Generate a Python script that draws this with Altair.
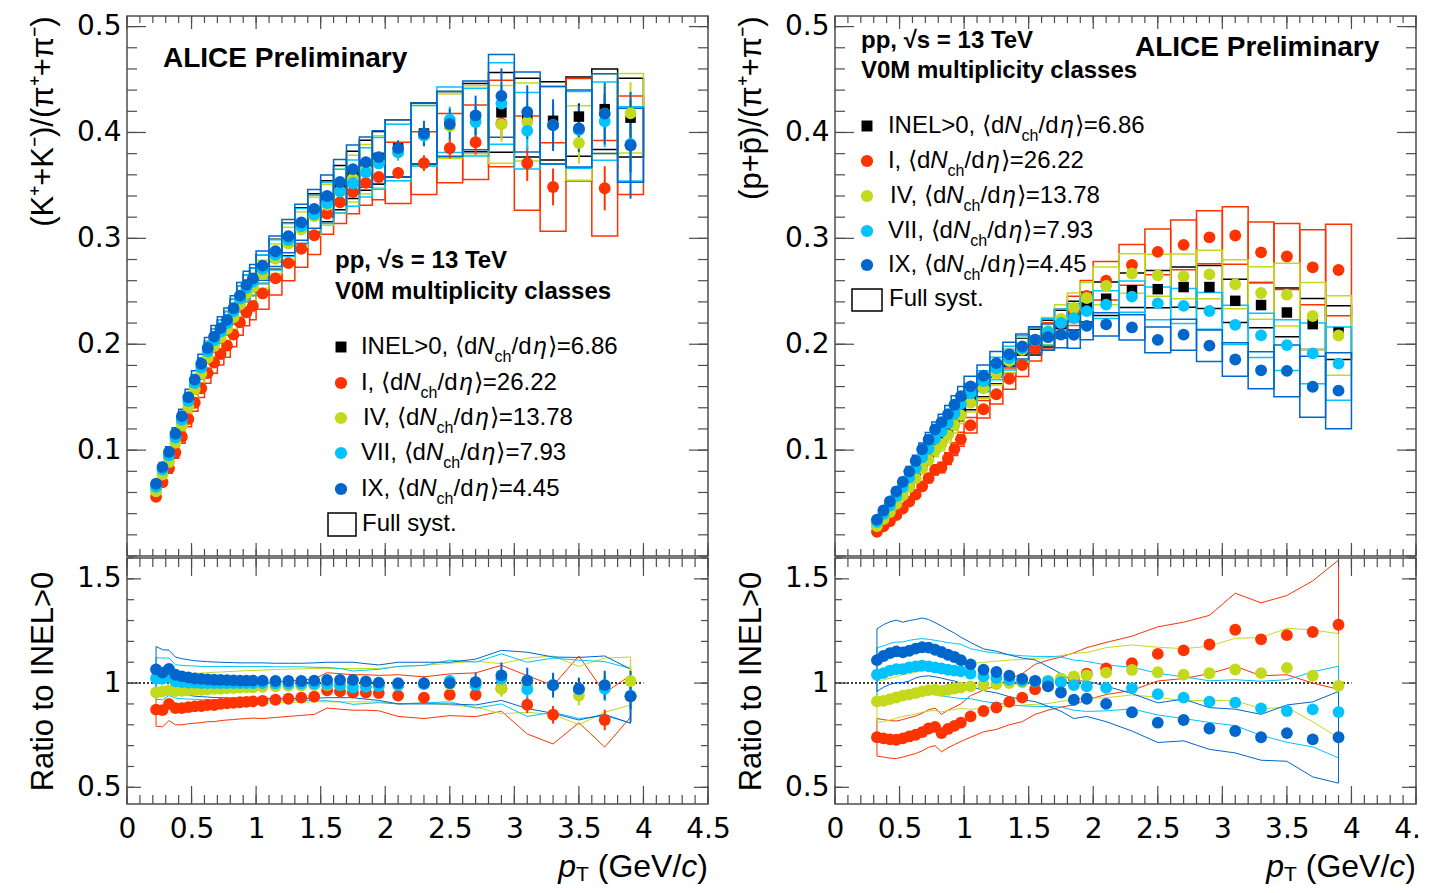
import altair as alt
import pandas as pd

# ---------------- data ----------------
CLASSES = ["INEL>0", "I", "IV", "VII", "IX"]
COLORS = ["#000000", "#ff3300", "#c3da1c", "#00c3ff", "#0066cc"]
MULT = ["6.86", "26.22", "13.78", "7.93", "4.45"]
PREFIX = ["INEL>0, ", "I, ", "IV, ", "VII, ", "IX, "]

PT_K = [0.225, 0.275, 0.325, 0.375, 0.425, 0.475, 0.525, 0.575, 0.625, 0.675, 0.725, 0.775,
        0.825, 0.875, 0.925, 0.975, 1.05, 1.15, 1.25, 1.35, 1.45, 1.55, 1.65, 1.75, 1.85, 1.95,
        2.1, 2.3, 2.5, 2.7, 2.9, 3.1, 3.3, 3.5, 3.7, 3.9]
BINHW_K = [0.025] * 16 + [0.05] * 10 + [0.1] * 10
PT_P = PT_K[2:]
BINHW_P = BINHW_K[2:]

# (K+ + K-)/(pi+ + pi-) for INEL>0
KPI_INEL = [0.064, 0.080, 0.092, 0.111, 0.128, 0.146, 0.163, 0.178, 0.193, 0.204, 0.212, 0.220,
            0.231, 0.243, 0.253, 0.259, 0.271, 0.285, 0.299, 0.312, 0.324, 0.335, 0.348, 0.360,
            0.369, 0.376, 0.385, 0.399, 0.408, 0.414, 0.419, 0.414, 0.411, 0.415, 0.422, 0.414]
# ratio to INEL>0
KPI_RATIO = {
    "I": [0.873, 0.87, 0.90, 0.88, 0.88, 0.885, 0.888, 0.89, 0.895, 0.895, 0.90, 0.903, 0.905,
          0.908, 0.91, 0.912, 0.915, 0.92, 0.925, 0.93, 0.935, 0.965, 0.96, 0.955, 0.955, 0.952,
          0.94, 0.93, 0.944, 0.944, 0.975, 0.896, 0.848, 0.97, 0.823, 0.937],
    "IV": [0.955, 0.96, 0.965, 0.962, 0.963, 0.965, 0.967, 0.968, 0.97, 0.972, 0.973, 0.975,
           0.976, 0.978, 0.98, 0.98, 0.982, 0.985, 0.987, 0.988, 0.99, 0.99, 0.99, 0.99, 0.99,
           0.99, 0.99, 0.995, 0.995, 0.995, 0.973, 0.99, 0.99, 0.94, 0.99, 1.01],
    "VII": [1.022, 1.02, 1.03, 1.008, 1.005, 1.003, 1.002, 1.0, 1.0, 1.0, 1.0, 1.0, 1.0, 1.0,
            1.0, 1.0, 1.0, 0.998, 0.998, 0.998, 0.996, 0.995, 0.99, 0.978, 0.982, 0.986, 0.99,
            0.995, 1.01, 0.99, 1.02, 0.97, 0.99, 0.97, 0.973, 0.94],
    "IX": [1.066, 1.05, 1.068, 1.04, 1.032, 1.027, 1.022, 1.02, 1.018, 1.016, 1.015, 1.014,
           1.013, 1.012, 1.012, 1.012, 1.012, 1.01, 1.01, 1.01, 1.012, 1.015, 1.015, 1.015,
           1.008, 1.002, 1.0, 1.0, 1.0, 1.005, 1.037, 1.013, 0.99, 0.973, 0.99, 0.937],
}
# half width of the systematic band in the ratio panel
KPI_RBAND = {
    "I": [0.08] * 16 + [0.085] * 10 + [0.1, 0.1, 0.1, 0.105, 0.11, 0.14, 0.14, 0.16, 0.13, 0.1],
    "IV": [0.08] * 26 + [0.09, 0.09, 0.1, 0.11, 0.12, 0.13, 0.14, 0.14, 0.13, 0.115],
    "VII": [0.1, 0.1, 0.09] + [0.08] * 23 + [0.09, 0.09, 0.1, 0.11, 0.12, 0.13, 0.13, 0.14, 0.13, 0.13],
    "IX": [0.11, 0.11, 0.09] + [0.085] * 23 + [0.1, 0.1, 0.1, 0.11, 0.12, 0.135, 0.135, 0.15, 0.14, 0.13],
}
KPI_SYS_BASE = [0.05] * 16 + [0.05, 0.05, 0.052, 0.054, 0.056, 0.058, 0.06, 0.062, 0.064, 0.066] + \
               [0.07, 0.072, 0.075, 0.078, 0.09, 0.09, 0.09, 0.09, 0.09, 0.09]
KPI_SYS_I = [0.055] * 16 + [0.06] * 10 + [0.08, 0.08, 0.085, 0.09, 0.1, 0.12, 0.12, 0.12, 0.13, 0.12]
KPI_SYST = {"INEL>0": KPI_SYS_BASE, "I": KPI_SYS_I, "IV": KPI_SYS_BASE,
            "VII": KPI_SYS_BASE, "IX": KPI_SYS_BASE}
KPI_STAT = {
    "INEL>0": [0.0] * 26 + [0.01, 0.012, 0.014, 0.016, 0.02, 0.022, 0.025, 0.03, 0.035, 0.04],
    "I": [0.0] * 26 + [0.015, 0.02, 0.025, 0.03, 0.035, 0.045, 0.05, 0.055, 0.06, 0.065],
    "IV": [0.0] * 26 + [0.02, 0.025, 0.03, 0.035, 0.04, 0.045, 0.05, 0.05, 0.06, 0.07],
    "VII": [0.0] * 26 + [0.02, 0.025, 0.03, 0.035, 0.04, 0.045, 0.05, 0.05, 0.06, 0.07],
    "IX": [0.0] * 26 + [0.02, 0.03, 0.035, 0.045, 0.06, 0.06, 0.06, 0.055, 0.07, 0.13],
}

# (p + pbar)/(pi+ + pi-) for INEL>0
PPI_INEL = [0.031, 0.038, 0.045, 0.053, 0.061, 0.069, 0.077, 0.086, 0.094, 0.103, 0.110, 0.118,
            0.127, 0.136, 0.147, 0.160, 0.173, 0.184, 0.194, 0.202, 0.210, 0.219, 0.227, 0.235,
            0.243, 0.251, 0.252, 0.254, 0.254, 0.241, 0.237, 0.230, 0.219, 0.211]
PPI_RATIO = {
    "I": [0.74, 0.735, 0.73, 0.728, 0.735, 0.744, 0.752, 0.765, 0.782, 0.79, 0.76, 0.78, 0.795,
          0.81, 0.84, 0.866, 0.883, 0.91, 0.93, 0.97, 0.99, 1.005, 1.02, 1.045, 1.07, 1.095,
          1.14, 1.157, 1.185, 1.256, 1.21, 1.23, 1.245, 1.28],
    "IV": [0.912, 0.915, 0.923, 0.931, 0.94, 0.945, 0.952, 0.96, 0.966, 0.968, 0.962, 0.968,
           0.974, 0.978, 0.984, 0.99, 0.995, 1.0, 1.004, 1.008, 1.012, 1.022, 1.032, 1.037,
           1.05, 1.063, 1.052, 1.04, 1.047, 1.065, 1.048, 1.073, 1.035, 0.987],
    "VII": [1.04, 1.048, 1.06, 1.067, 1.067, 1.075, 1.08, 1.083, 1.08, 1.075, 1.07, 1.064, 1.06,
            1.056, 1.045, 1.032, 1.024, 1.016, 1.011, 1.008, 1.008, 1.005, 0.99, 0.984, 0.977,
            0.976, 0.947, 0.93, 0.911, 0.906, 0.879, 0.866, 0.874, 0.861],
    "IX": [1.11, 1.13, 1.144, 1.152, 1.147, 1.155, 1.165, 1.172, 1.17, 1.16, 1.149, 1.136, 1.125,
           1.11, 1.09, 1.064, 1.053, 1.035, 1.02, 1.011, 0.984, 0.955, 0.92, 0.925, 0.9, 0.86,
           0.81, 0.823, 0.782, 0.77, 0.74, 0.76, 0.73, 0.74],
}
PPI_RBAND = {
    "I": [0.09] * 14 + [0.1, 0.1, 0.105, 0.11, 0.115, 0.12, 0.12, 0.12, 0.125, 0.125] +
         [0.125, 0.13, 0.13, 0.135, 0.14, 0.175, 0.175, 0.19, 0.245, 0.31],
    "IV": [0.1] * 14 + [0.11] * 10 + [0.12, 0.12, 0.12, 0.125, 0.13, 0.15, 0.17, 0.19, 0.22, 0.25],
    "VII": [0.13] * 14 + [0.12] * 10 + [0.11, 0.1, 0.1, 0.1, 0.1, 0.11, 0.13, 0.15, 0.18, 0.22],
    "IX": [0.15, 0.15, 0.15, 0.15, 0.145, 0.145, 0.14, 0.14, 0.135, 0.13, 0.125, 0.12, 0.115, 0.11,
           0.105, 0.1, 0.1, 0.1, 0.1, 0.1, 0.095, 0.09, 0.09, 0.085, 0.085, 0.09, 0.095, 0.1, 0.1,
           0.105, 0.11, 0.135, 0.18, 0.22],
}
PPI_SYST = {
    "INEL>0": [0.06] * 24 + [0.065, 0.065, 0.07, 0.075, 0.08, 0.085, 0.09, 0.1, 0.11, 0.12],
    "I": [0.06] * 24 + [0.07, 0.07, 0.075, 0.08, 0.083, 0.09, 0.1, 0.11, 0.13, 0.16],
    "IV": [0.06] * 24 + [0.07, 0.07, 0.075, 0.08, 0.086, 0.09, 0.1, 0.12, 0.14, 0.18],
    "VII": [0.06] * 24 + [0.055, 0.06, 0.065, 0.07, 0.075, 0.085, 0.1, 0.12, 0.15, 0.19],
    "IX": [0.06] * 24 + [0.05, 0.055, 0.06, 0.07, 0.075, 0.085, 0.1, 0.14, 0.18, 0.23],
}
PPI_STAT = {c: [0.0] * 34 for c in CLASSES}

X_MAJOR = [0, 0.5, 1, 1.5, 2, 2.5, 3, 3.5, 4, 4.5]
X_MINOR = [i / 10 for i in range(46)]
Y_TOP_LABELS = [0.1, 0.2, 0.3, 0.4, 0.5]
Y_TOP_MINOR = [i / 50 for i in range(26)]
Y_BOT_LABELS = [0.5, 1.0, 1.5]
Y_BOT_MINOR = [round(0.5 + i / 10, 2) for i in range(12)]
REF_X = [0.0, 4.0]
REF_Y = [1.0, 1.0]

# ---------------- style ----------------
FONT = "Liberation Sans"
LFONT = "DejaVu Sans"
FRAME = "#4d4d4d"
W_P, H_T, H_B = 581, 540, 246
XS = alt.Scale(domain=[0, 4.5], nice=False, zero=False)
YS_T = alt.Scale(domain=[0, 0.51], nice=False, zero=False)
YS_B = alt.Scale(domain=[0.42, 1.6], nice=False, zero=False)
CS = alt.Scale(domain=CLASSES, range=COLORS)
ONE = pd.DataFrame({"a": [0]})

HELV = {' ': 278, ',': 278, '.': 278, '/': 278, '=': 584, '>': 584, '(': 333, ')': 333,
        'I': 278, 'N': 722, 'E': 667, 'L': 556, 'V': 667, 'X': 667, 'G': 778,
        'd': 556, 'c': 500, 'h': 556, 'e': 556}


def tw(s, fs):
    return sum(HELV.get(ch, 556) for ch in s) / 1000.0 * fs


def yaxis(values, fmt, title, anchor):
    return alt.Axis(values=values, format=fmt, title=title, titleAnchor=anchor,
                    labelFont=LFONT, labelFontSize=28, labelColor="black", labelPadding=6,
                    ticks=False, tickSize=0, domain=False, grid=False, labelOverlap=False,
                    labelFlush=False, titleFont=FONT, titleFontSize=31, titleFontWeight="normal",
                    titleColor="black", titlePadding=16, minExtent=52, maxExtent=52)


XAX_B = alt.Axis(values=X_MAJOR, format="~g", title=None, labelFont=LFONT, labelFontSize=28,
                 labelColor="black", labelPadding=11, ticks=False, tickSize=0, domain=False,
                 grid=False, labelOverlap=False, labelFlush=False)


def txt(s, x, y, size, align="left", weight="normal", style="normal"):
    return alt.Chart(ONE).mark_text(text=s, align=align, baseline="middle", fontSize=size,
                                    fontWeight=weight, fontStyle=style, font=FONT,
                                    color="black").encode(x=alt.value(x), y=alt.value(y))


def ticks(W, H, ys, xax, yax, ymaj, ymin, lx, lxm, ly, lym):
    out = []
    for vals, ln in ((ymaj, ly), (ymin, lym)):
        base = alt.Chart(pd.DataFrame({"t": vals})).mark_rule(color=FRAME, strokeWidth=1.2)
        out.append(base.encode(y=alt.Y("t:Q", scale=ys, axis=yax), x=alt.value(0), x2=alt.value(ln)))
        out.append(base.encode(y=alt.Y("t:Q", scale=ys, axis=yax), x=alt.value(W), x2=alt.value(W - ln)))
    for vals, ln in ((X_MAJOR, lx), (X_MINOR, lxm)):
        base = alt.Chart(pd.DataFrame({"t": vals})).mark_rule(color=FRAME, strokeWidth=1.2)
        out.append(base.encode(x=alt.X("t:Q", scale=XS, axis=xax), y=alt.value(H), y2=alt.value(H - ln)))
        out.append(base.encode(x=alt.X("t:Q", scale=XS, axis=xax), y=alt.value(0), y2=alt.value(ln)))
    return out


def legend(xm, x0, rows, fy, box):
    fs, fsub = 24, 16
    out = []
    for i, c in enumerate(CLASSES):
        y = rows[i]
        if i == 0:
            out.append(alt.Chart(ONE).mark_square(size=120, opacity=1, color="black")
                       .encode(x=alt.value(xm), y=alt.value(y)))
        else:
            out.append(alt.Chart(ONE).mark_circle(size=150, opacity=1, color=COLORS[i])
                       .encode(x=alt.value(xm), y=alt.value(y)))
        xn = x0 + tw(PREFIX[i], fs) + 0.329 * fs + 0.556 * fs
        out.append(txt(PREFIX[i] + "\u27e8d", xn, y, fs, align="right"))
        out.append(txt("N", xn, y, fs, style="italic"))
        xc = xn + 0.722 * fs
        out.append(txt("ch", xc, y + 10, fsub))
        xs = xc + tw("ch", fsub)
        out.append(txt("/d", xs, y, fs))
        xe = xs + tw("/d", fs) + 0.08 * fs
        out.append(txt("\u03b7", xe, y, fs, style="italic"))
        out.append(txt("\u27e9=" + MULT[i], xe + 0.6 * fs, y, fs))
    out.append(alt.Chart(ONE).mark_rect(filled=False, stroke="black", strokeWidth=1.5)
               .encode(x=alt.value(box[0]), x2=alt.value(box[1]), y=alt.value(box[2]), y2=alt.value(box[3])))
    out.append(txt("Full syst.", x0, fy, fs))
    return out


def top_panel(pt, bhw, inel, ratio, syst, stat, ytitle, extra):
    rows = []
    for c in CLASSES:
        r = ratio.get(c)
        for i, p in enumerate(pt):
            v = inel[i] * (1.0 if r is None else r[i])
            s = syst[c][i] * v
            e = stat[c][i] * v
            rows.append(dict(cls=c, pt=p, lo=p - bhw[i], hi=p + bhw[i], v=v,
                             slo=v - s, shi=v + s, elo=v - e, ehi=v + e, e=e))
    df = pd.DataFrame(rows)
    yax = yaxis(Y_TOP_LABELS, ".1f", ytitle, "end")
    col = alt.Color("cls:N", scale=CS, legend=None)
    layers = [
        alt.Chart(df).mark_rect(filled=False, strokeWidth=1.5).encode(
            x=alt.X("lo:Q", scale=XS, axis=None), x2="hi:Q",
            y=alt.Y("slo:Q", scale=YS_T, axis=yax), y2="shi:Q", color=col),
    ]
    de = df[df.e > 0]
    if len(de):
        layers.append(alt.Chart(de).mark_rule(strokeWidth=2).encode(
            x=alt.X("pt:Q", scale=XS, axis=None), y=alt.Y("elo:Q", scale=YS_T, axis=yax),
            y2="ehi:Q", color=col))
    layers.append(alt.Chart(df[df.cls == "INEL>0"]).mark_square(size=110, opacity=1).encode(
        x=alt.X("pt:Q", scale=XS, axis=None), y=alt.Y("v:Q", scale=YS_T, axis=yax), color=col))
    layers.append(alt.Chart(df[df.cls != "INEL>0"]).mark_circle(size=140, opacity=1).encode(
        x=alt.X("pt:Q", scale=XS, axis=None), y=alt.Y("v:Q", scale=YS_T, axis=yax), color=col))
    layers += ticks(W_P, H_T, YS_T, None, yax, Y_TOP_LABELS, Y_TOP_MINOR, 13, 7, 19, 10)
    layers += extra
    return alt.layer(*layers).properties(width=W_P, height=H_T)


def xtitle(W):
    fs, fsub, y = 32, 21, 309
    out = []
    r = W
    out.append(txt(")", r, y, fs, align="right"))
    r -= 0.333 * fs
    out.append(txt("c", r, y, fs, align="right", style="italic"))
    r -= 0.5 * fs
    out.append(txt("(GeV/", r, y, fs, align="right"))
    r -= tw("(GeV/", fs) + 0.278 * fs
    out.append(txt("T", r, y + 8, fsub, align="right"))
    r -= 0.611 * fsub
    out.append(txt("p", r, y, fs, align="right", style="italic"))
    return out


def bottom_panel(pt, ratio, band, stat):
    pts, bnd = [], []
    for c in CLASSES[1:]:
        n = len(pt)
        for i in range(n):
            v = ratio[c][i]
            e = v * stat[c][i]
            pts.append(dict(cls=c, pt=pt[i], v=v, elo=v - e, ehi=v + e, e=e))
        poly = [(pt[i], ratio[c][i] + band[c][i]) for i in range(n)]
        poly += [(pt[i], ratio[c][i] - band[c][i]) for i in reversed(range(n))]
        poly.append(poly[0])
        for k, (x, y) in enumerate(poly):
            bnd.append(dict(cls=c, x=x, y=y, k=k))
    dp, db = pd.DataFrame(pts), pd.DataFrame(bnd)
    yax = yaxis(Y_BOT_LABELS, "~g", "Ratio to INEL>0", "middle")
    col = alt.Color("cls:N", scale=CS, legend=None)
    ref = pd.DataFrame({"x": REF_X, "y": REF_Y})
    layers = [
        alt.Chart(ref).mark_line(color="black", strokeWidth=1.5, strokeDash=[2, 2]).encode(
            x=alt.X("x:Q", scale=XS, axis=XAX_B), y=alt.Y("y:Q", scale=YS_B, axis=yax)),
        alt.Chart(db).mark_line(strokeWidth=1).encode(
            x=alt.X("x:Q", scale=XS, axis=XAX_B), y=alt.Y("y:Q", scale=YS_B, axis=yax),
            color=col, order="k:Q"),
    ]
    de = dp[dp.e > 0]
    if len(de):
        layers.append(alt.Chart(de).mark_rule(strokeWidth=2).encode(
            x=alt.X("pt:Q", scale=XS, axis=XAX_B), y=alt.Y("elo:Q", scale=YS_B, axis=yax),
            y2="ehi:Q", color=col))
    layers.append(alt.Chart(dp).mark_circle(size=140, opacity=1).encode(
        x=alt.X("pt:Q", scale=XS, axis=XAX_B), y=alt.Y("v:Q", scale=YS_B, axis=yax), color=col))
    layers += ticks(W_P, H_B, YS_B, XAX_B, yax, Y_BOT_LABELS, Y_BOT_MINOR, 18, 9, 14, 7)
    layers += xtitle(W_P)
    return alt.layer(*layers).properties(width=W_P, height=H_B)


extraL = [txt("ALICE Preliminary", 36, 43, 28, weight="bold"),
          txt("pp, \u221as = 13 TeV", 208, 245, 24, weight="bold"),
          txt("V0M multiplicity classes", 208, 276, 24, weight="bold")]
extraL += legend(214, 235, [331, 367, 402, 437, 473], 508, (201, 229, 497, 520))

extraR = [txt("pp, \u221as = 13 TeV", 26, 25, 24, weight="bold"),
          txt("V0M multiplicity classes", 26, 55, 24, weight="bold"),
          txt("ALICE Preliminary", 300, 32, 28, weight="bold")]
extraR += legend(32, 54, [110, 145, 180, 215, 249], 283, (17, 47, 273, 295))

topL = top_panel(PT_K, BINHW_K, KPI_INEL, KPI_RATIO, KPI_SYST, KPI_STAT,
                 "(K\u207a+K\u207b)/(\u03c0\u207a+\u03c0\u207b)", extraL)
topR = top_panel(PT_P, BINHW_P, PPI_INEL, PPI_RATIO, PPI_SYST, PPI_STAT,
                 "(p+p\u0304)/(\u03c0\u207a+\u03c0\u207b)", extraR)
botL = bottom_panel(PT_K, KPI_RATIO, KPI_RBAND, KPI_STAT)
botR = bottom_panel(PT_P, PPI_RATIO, PPI_RBAND, PPI_STAT)

chart = alt.concat(topL, topR, botL, botR, columns=2, align="each", bounds="flush",
                   spacing={"row": 2, "column": 127}).properties(
    padding={"left": 18, "top": 3, "right": -20, "bottom": -2}
).configure_view(stroke=FRAME, strokeWidth=1.5)

chart.save("out.html", embed_options={"renderer": "svg", "actions": False})
